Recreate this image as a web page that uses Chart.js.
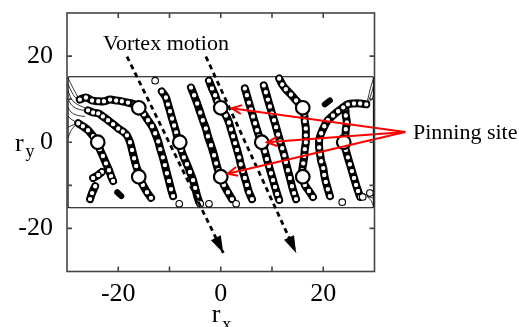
<!DOCTYPE html>
<html>
<head>
<meta charset="utf-8">
<script src="https://cdn.jsdelivr.net/npm/chart.js@4.4.1/dist/chart.umd.min.js"></script>
<style>
  html, body { margin: 0; padding: 0; background: #fff; }
  #wrap { width: 519px; height: 327px; }
</style>
</head>
<body>
<div id="wrap"><canvas id="c" width="519" height="327"></canvas></div>
<script>
// Axis ticks: marks every 10, labels at these values
const tickLabelsX = [-20, 0, 20];
const tickLabelsY = [-20, 0, 20];

// Pinning sites (r_x, r_y)
const pinX = [-24, -16, -16, -8, 0, 0, 8, 16, 16, 24];
const pinY = [0, 8, -8, 0, 8, -8, 0, 8, -8, 0];

// Vortex trajectories, each a list of [r_x, r_y] positions
const chainA = [[-27.5,9.9],[-26.3,10.4],[-25.1,9.7],[-23.9,9.5],[-22.8,9.5],[-21.6,9.9],[-20.4,9.7],[-19.3,9.5],[-18.1,9.2],[-16.9,8.8],[-16,8],[-15.0,6.5],[-14.2,5.1],[-13.4,3.7],[-12.8,2.1],[-12.2,0.2],[-11.8,-1.6],[-11.3,-3.5],[-10.9,-5.3],[-10.5,-7.2],[-10.1,-9.0],[-9.7,-10.9],[-9.3,-12.5]];
const chainB = [[-25.9,7.4],[-24.9,6.9],[-23.9,6.7],[-23.0,6.0],[-22.0,5.1],[-21.0,4.2],[-20.0,3.2],[-19.1,2.5],[-18.3,1.6],[-17.7,0],[-17.3,-1.8],[-16.9,-3.7],[-16.5,-5.5],[-16.1,-6.9],[-16,-8],[-15.2,-9.9],[-14.4,-11.6],[-13.6,-12.9]];
const chainC = [[-27.8,4.4],[-26.9,3.7],[-25.9,2.8],[-24.9,1.4],[-24,0],[-23.6,-1.6],[-23.0,-3.2],[-22.4,-4.9],[-21.8,-6.5],[-21.4,-7.9],[-21.0,-9.0]];
const chainC2 = [[-23.2,-6.9],[-23.9,-7.6],[-24.9,-8.3]];
const chainC3 = [[-24.5,-10.2],[-25.1,-11.8],[-25.5,-13.2]];
const chainD = [[-11.5,11.8],[-10.7,10.4],[-10.3,8.8],[-9.9,7.2],[-9.5,5.5],[-9.1,3.9],[-8.7,2.3],[-8.5,1.2],[-8,0],[-7.7,-1.8],[-7.2,-3.5],[-6.6,-5.1],[-6.0,-6.9],[-5.4,-8.8],[-5.0,-10.6],[-4.6,-12.5],[-4.2,-13.9]];
const chainE = [[-5.8,12.7],[-5.2,10.9],[-4.6,9.0],[-4.0,6.9],[-3.5,5.1],[-2.9,3.2],[-2.5,1.4],[-1.9,-0.7],[-1.3,-3.0],[-0.9,-4.9],[-0.5,-6.5],[0,-8],[0.6,-9.9],[1.4,-11.6],[2.2,-13.2]];
const chainF = [[-2.3,14.3],[-1.7,12.5],[-1.1,10.9],[-0.7,9.5],[0,8],[1.0,6.2],[1.6,4.6],[2.0,3.0],[2.4,1.4],[2.8,-0.2],[3.2,-1.8],[3.6,-3.5],[3.9,-5.1],[4.3,-6.7],[4.7,-8.3],[5.1,-9.9],[5.5,-11.6],[6.1,-13.2]];
const chainH = [[4.7,12.5],[5.1,10.9],[5.5,9.2],[5.9,7.6],[6.3,6.0],[6.7,4.4],[7.1,2.8],[7.5,1.4],[8,0],[8.6,-2.1],[9.0,-3.9],[9.4,-5.5],[9.8,-7.2],[10.2,-8.8],[10.6,-10.4],[11.0,-12.0],[11.4,-13.4]];
const chainI = [[8.4,13.2],[8.8,11.6],[9.2,9.9],[9.6,8.3],[10.0,6.7],[10.4,5.1],[10.8,3.5],[11.2,1.8],[11.6,0.2],[12.0,-1.4],[12.4,-3.0],[12.7,-4.6],[13.1,-6.5],[13.5,-8.3],[13.9,-10.2],[14.3,-11.8],[14.7,-13.2]];
const chainJ = [[11.4,14.8],[12.0,13.4],[12.7,12.3],[13.7,11.1],[14.7,9.7],[16,8],[16.3,6.5],[16.4,4.9],[16.6,3.2],[16.6,1.6],[16.6,0],[16.4,-1.6],[16.3,-3.2],[16.1,-4.9],[15.9,-6.5],[16,-8],[16.4,-9.9],[17.2,-11.3],[18.0,-12.7]];
const chainK = [[28.4,8.8],[27.2,9.0],[26.0,9.0],[24.8,8.8],[23.9,8.1],[22.9,7.2],[21.9,6.2],[20.9,5.1],[20.2,3.7],[19.6,2.1],[19.2,0.5],[19.2,-1.2],[19.4,-2.8],[19.6,-4.4],[20.0,-6.0],[20.2,-7.6],[20.5,-9.2],[20.9,-10.9],[21.3,-12.5]];
const chainL = [[24.3,7.9],[24.4,6.2],[24.6,4.6],[24.4,3.0],[24.3,1.4],[24,0],[24.4,-1.8],[24.8,-3.5],[25.2,-5.1],[25.6,-6.7],[26.0,-8.3],[26.4,-9.9],[26.8,-11.3],[27.2,-12.7]];

// Short dense clusters
const clusterLeft = [[-20.2,-11.6],[-19.4,-12.5]];
const clusterRight = [[20.3,8.8],[21.3,9.7]];

// Loose vortices near the strip edges
const edgeX = [-12.8, -8.1, -4.0, -2.3, 3.0, 23.7, 27.7, 29.1];
const edgeY = [14.3, -14.3, -14.3, -14.3, -14.3, -13.9, -12.7, -11.8];

// Edge flow lines at the strip corners
const fanLeft = [
  [[-29.8,14.9],[-29.0,13.0],[-28.2,11.2],[-27.5,9.9]],
  [[-29.8,13.5],[-29.0,11.5],[-28.2,10.2],[-27.0,9.6]],
  [[-29.8,12.0],[-29.1,10.0],[-28.0,8.8],[-26.5,8.0]],
  [[-29.8,10.0],[-29.0,8.5],[-27.6,7.6],[-25.9,7.4]],
  [[-29.8,8.0],[-29.0,6.8],[-27.8,6.2],[-26.5,6.0]],
  [[-29.8,6.0],[-29.0,5.2],[-28.2,4.7],[-27.8,4.4]],
  [[-29.8,3.5],[-29.2,3.8],[-28.4,4.2],[-27.8,4.4]],
  [[-29.8,1.0],[-29.3,2.5],[-28.5,3.8],[-27.8,4.4]]
];
const fanRight = [
  [[29.8,14.8],[29.2,12.5],[28.8,10.5],[28.4,8.8]],
  [[29.8,13.0],[29.3,11.0],[28.8,9.5],[28.4,8.8]],
  [[29.8,11.0],[29.4,9.8],[28.4,8.8]],
  [[29.8,-14.8],[29.3,-13.5],[28.5,-12.5]],
  [[29.8,-13.0],[29.2,-12.8],[28.5,-12.5]]
];

// Sample strip outline
const stripX = [-29.6, 29.6, 29.8, 29.8, 29.6, -29.6, -29.8, -29.8, -29.6];
const stripY = [15.2, 15.2, 15.0, -15.0, -15.2, -15.2, -15.0, 15.0, 15.2];

// Direction of vortex motion (start, tip)
const motionArrows = [
  [[-18.3, 19.9], [0.5, -25.7]],
  [[-2.9, 19.9], [14.7, -25.7]]
];

// Pointers to pinning sites
const pointerOrigin = [36.0, 2.4];
const pointerTips = [[2.1, 7.9], [9.0, 0], [1.3, -7.3]];

const toPts = arr => arr.map(p => ({ x: p[0], y: p[1] }));
const serif = '"Liberation Serif", "Times New Roman", serif';

const datasets = [];

// pointer lines (top-most)
pointerTips.forEach(t => datasets.push({
  data: toPts([pointerOrigin, t]), showLine: true, clip: false,
  borderColor: '#ff0000', borderWidth: 2, pointRadius: 0, order: 0
}));
// motion arrows
motionArrows.forEach(a => datasets.push({
  data: toPts(a), showLine: true, clip: false,
  borderColor: '#000', borderWidth: 2.8, borderDash: [5, 4], pointRadius: 0, order: 0
}));
// pinning sites
datasets.push({
  data: pinX.map((x, i) => ({ x, y: pinY[i] })),
  pointRadius: 6.8, pointBackgroundColor: '#fff', pointBorderColor: '#000', pointBorderWidth: 2.2,
  showLine: false, order: 1
});
// loose edge vortices
datasets.push({
  data: edgeX.map((x, i) => ({ x, y: edgeY[i] })),
  pointRadius: 3.3, pointBackgroundColor: '#fff', pointBorderColor: '#000', pointBorderWidth: 1.1,
  showLine: false, order: 2
});
// trajectories: dense black core with ring-shaped vortex positions on top
[chainA, chainB, chainC, chainC2, chainC3, chainD, chainE, chainF, chainH, chainI, chainJ, chainK, chainL].forEach(c => datasets.push({
  data: toPts(c), showLine: true, tension: 0.35,
  borderColor: '#000', borderWidth: 8, borderCapStyle: 'round', borderJoinStyle: 'round',
  pointRadius: 2.8, pointBackgroundColor: '#fff', pointBorderColor: '#000', pointBorderWidth: 1.2,
  order: 5
}));
[clusterLeft, clusterRight].forEach(c => datasets.push({
  data: toPts(c), showLine: true, borderColor: '#000', borderWidth: 6, borderCapStyle: 'round',
  pointRadius: 0, order: 5
}));
// corner flow lines
fanLeft.concat(fanRight).forEach(f => datasets.push({
  data: toPts(f), showLine: true, tension: 0.4, borderColor: '#000', borderWidth: 0.8,
  pointRadius: 0, order: 8
}));
// strip outline
datasets.push({
  data: stripX.map((x, i) => ({ x, y: stripY[i] })), showLine: true,
  borderColor: '#000', borderWidth: 1.2, pointRadius: 0, order: 9
});

function arrowHead(ctx, x0, y0, x1, y1, len, half, filled) {
  const ang = Math.atan2(y1 - y0, x1 - x0);
  const bx = x1 - len * Math.cos(ang), by = y1 - len * Math.sin(ang);
  const nx = -Math.sin(ang) * half, ny = Math.cos(ang) * half;
  ctx.beginPath();
  ctx.moveTo(bx + nx, by + ny);
  ctx.lineTo(x1, y1);
  ctx.lineTo(bx - nx, by - ny);
  if (filled) { ctx.closePath(); ctx.fill(); } else { ctx.stroke(); }
}

const decorations = {
  id: 'decorations',
  afterDatasetsDraw(chart) {
    const { ctx, scales: { x, y } } = chart;
    ctx.save();
    ctx.fillStyle = '#000';
    motionArrows.forEach(a => {
      arrowHead(ctx, x.getPixelForValue(a[0][0]), y.getPixelForValue(a[0][1]),
        x.getPixelForValue(a[1][0]), y.getPixelForValue(a[1][1]), 17, 5.5, true);
    });
    ctx.strokeStyle = '#ff0000';
    ctx.lineWidth = 2;
    pointerTips.forEach(t => {
      arrowHead(ctx, x.getPixelForValue(pointerOrigin[0]), y.getPixelForValue(pointerOrigin[1]),
        x.getPixelForValue(t[0]), y.getPixelForValue(t[1]), 10, 4.5, false);
    });
    ctx.restore();
  },
  afterDraw(chart) {
    const { ctx, chartArea: a, scales: { x, y } } = chart;
    ctx.save();
    // frame and inward tick marks on all four sides
    ctx.strokeStyle = '#454545';
    ctx.lineWidth = 1.6;
    ctx.strokeRect(a.left, a.top, a.right - a.left, a.bottom - a.top);
    const tl = 5;
    ctx.beginPath();
    x.ticks.forEach(t => {
      if (t.value <= x.min || t.value >= x.max) return;
      const px = x.getPixelForValue(t.value);
      ctx.moveTo(px, a.bottom); ctx.lineTo(px, a.bottom - tl);
      ctx.moveTo(px, a.top); ctx.lineTo(px, a.top + tl);
    });
    y.ticks.forEach(t => {
      if (t.value <= y.min || t.value >= y.max) return;
      const py = y.getPixelForValue(t.value);
      ctx.moveTo(a.left, py); ctx.lineTo(a.left + tl, py);
      ctx.moveTo(a.right, py); ctx.lineTo(a.right - tl, py);
    });
    ctx.stroke();

    // axis titles with subscripts
    ctx.fillStyle = '#000';
    ctx.textBaseline = 'alphabetic';
    ctx.textAlign = 'left';
    const y0 = y.getPixelForValue(0);
    ctx.font = '26px ' + serif;
    ctx.fillText('r', 15, y0 + 9);
    ctx.font = '18px ' + serif;
    ctx.fillText('y', 25.5, y0 + 15);
    const x0 = x.getPixelForValue(0);
    ctx.font = '26px ' + serif;
    ctx.fillText('r', x0 - 9, 322);
    ctx.font = '18px ' + serif;
    ctx.fillText('x', x0 + 1.5, 330);

    // annotations
    ctx.font = '22px ' + serif;
    ctx.fillText('Vortex motion', x.getPixelForValue(-23.0), y.getPixelForValue(21.3));
    ctx.fillText('Pinning site', x.getPixelForValue(37.5), y.getPixelForValue(0.86));
    ctx.restore();
  }
};

new Chart(document.getElementById('c'), {
  type: 'scatter',
  data: { datasets },
  options: {
    responsive: false,
    animation: false,
    devicePixelRatio: 1,
    layout: { padding: { left: 0, right: 144.5, top: 13, bottom: 0 } },
    plugins: { legend: { display: false }, tooltip: { enabled: false } },
    elements: { line: { fill: false } },
    scales: {
      x: {
        type: 'linear', min: -30, max: 30,
        grid: { display: false, drawTicks: false },
        border: { display: false },
        ticks: {
          stepSize: 10, autoSkip: false, maxRotation: 0, padding: 7, color: '#000',
          font: { family: serif, size: 26 },
          callback: v => tickLabelsX.includes(v) ? String(v) : ''
        },
        afterFit: s => { s.height = 55.5; s.paddingLeft = 0; s.paddingRight = 0; }
      },
      y: {
        type: 'linear', min: -30, max: 30,
        grid: { display: false, drawTicks: false },
        border: { display: false },
        ticks: {
          stepSize: 10, autoSkip: false, padding: 14, color: '#000',
          font: { family: serif, size: 26 },
          callback: v => tickLabelsY.includes(v) ? String(v) : ''
        },
        afterFit: s => { s.width = 67; s.paddingTop = 0; s.paddingBottom = 0; }
      }
    }
  },
  plugins: [decorations]
});
</script>
</body>
</html>
